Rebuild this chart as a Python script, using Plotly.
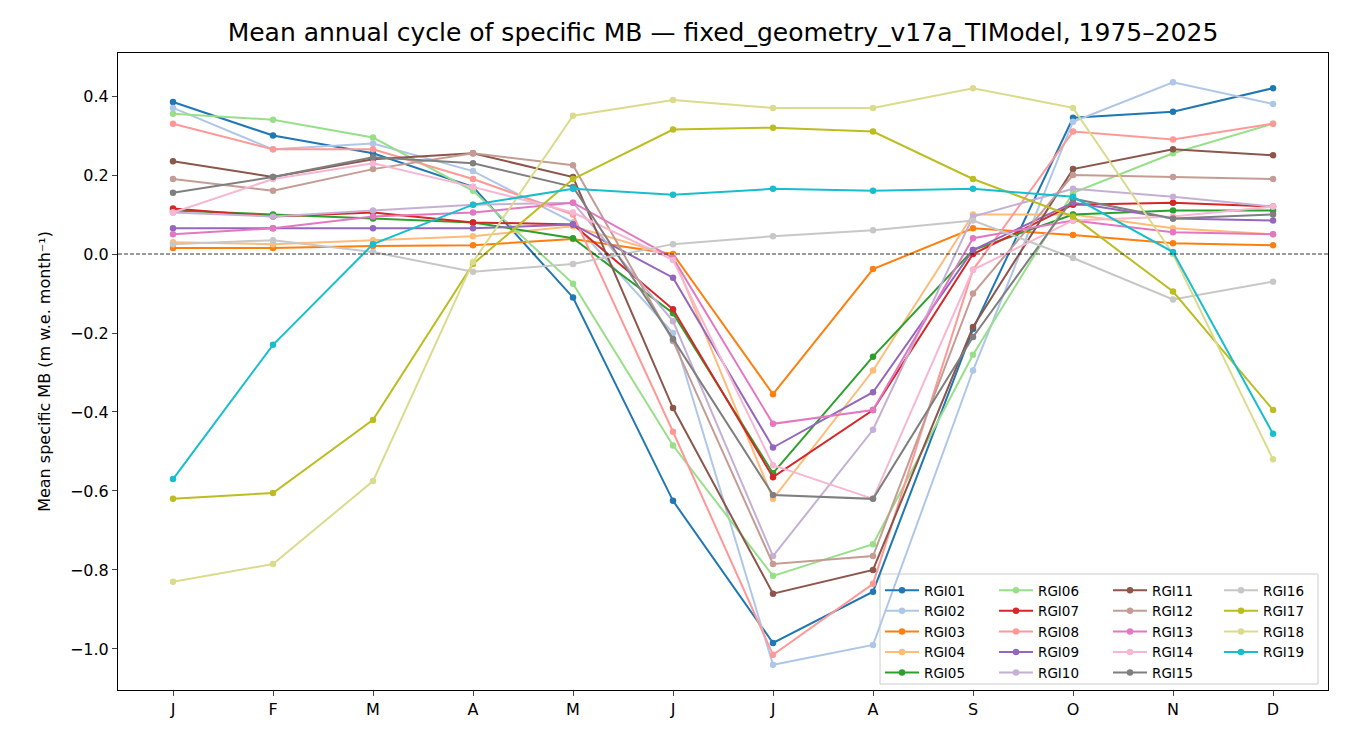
import plotly.graph_objects as go

months = ["J","F","M","A","M","J","J","A","S","O","N","D"]
names = [f"RGI{i:02d}" for i in range(1, 20)]
colors = ["#1f77b4","#aec7e8","#ff7f0e","#ffbb78","#2ca02c","#98df8a","#d62728","#ff9896",
          "#9467bd","#c5b0d5","#8c564b","#c49c94","#e377c2","#f7b6d2","#7f7f7f","#c7c7c7",
          "#bcbd22","#dbdb8d","#17becf"]

rgi01 = [0.385, 0.30, 0.255, 0.17, -0.11, -0.625, -0.985, -0.855, -0.19, 0.345, 0.36, 0.42]
rgi02 = [0.37, 0.265, 0.28, 0.21, 0.08, -0.20, -1.04, -0.99, -0.295, 0.335, 0.435, 0.38]
rgi03 = [0.015, 0.015, 0.02, 0.022, 0.038, 0.0, -0.355, -0.038, 0.065, 0.048, 0.027, 0.022]
rgi04 = [0.03, 0.025, 0.035, 0.045, 0.07, -0.005, -0.62, -0.295, 0.10, 0.10, 0.065, 0.05]
rgi05 = [0.11, 0.10, 0.09, 0.08, 0.04, -0.15, -0.555, -0.26, 0.01, 0.10, 0.11, 0.11]
rgi06 = [0.355, 0.34, 0.295, 0.16, -0.075, -0.485, -0.815, -0.735, -0.255, 0.155, 0.255, 0.33]
rgi07 = [0.115, 0.095, 0.105, 0.08, 0.075, -0.14, -0.565, -0.395, 0.0, 0.125, 0.13, 0.12]
rgi08 = [0.33, 0.265, 0.265, 0.19, 0.10, -0.45, -1.015, -0.835, -0.04, 0.31, 0.29, 0.33]
rgi09 = [0.065, 0.065, 0.065, 0.065, 0.075, -0.06, -0.49, -0.35, 0.01, 0.13, 0.09, 0.085]
rgi10 = [0.105, 0.095, 0.11, 0.125, 0.13, -0.17, -0.765, -0.445, 0.095, 0.165, 0.145, 0.12]
rgi11 = [0.235, 0.195, 0.24, 0.255, 0.195, -0.39, -0.86, -0.80, -0.185, 0.215, 0.265, 0.25]
rgi12 = [0.19, 0.16, 0.215, 0.255, 0.225, -0.22, -0.785, -0.765, -0.10, 0.20, 0.195, 0.19]
rgi13 = [0.05, 0.065, 0.095, 0.105, 0.13, -0.01, -0.43, -0.395, 0.04, 0.085, 0.055, 0.05]
rgi14 = [0.105, 0.19, 0.23, 0.17, 0.105, -0.015, -0.535, -0.62, -0.04, 0.085, 0.095, 0.12]
rgi15 = [0.155, 0.195, 0.245, 0.23, 0.17, -0.215, -0.61, -0.62, -0.21, 0.14, 0.09, 0.10]
rgi16 = [0.025, 0.035, 0.005, -0.045, -0.025, 0.025, 0.045, 0.06, 0.085, -0.01, -0.115, -0.07]
rgi17 = [-0.62, -0.605, -0.42, -0.025, 0.19, 0.315, 0.32, 0.31, 0.19, 0.095, -0.095, -0.395]
rgi18 = [-0.83, -0.785, -0.575, -0.02, 0.35, 0.39, 0.37, 0.37, 0.42, 0.37, 0.0, -0.52]
rgi19 = [-0.57, -0.23, 0.025, 0.125, 0.165, 0.15, 0.165, 0.16, 0.165, 0.145, 0.005, -0.455]

series = [rgi01, rgi02, rgi03, rgi04, rgi05, rgi06, rgi07, rgi08, rgi09, rgi10,
          rgi11, rgi12, rgi13, rgi14, rgi15, rgi16, rgi17, rgi18, rgi19]

x = list(range(12))
fig = go.Figure()
legend_ids = ["legend", "legend2", "legend3", "legend4"]
for i, (nm, ys, c) in enumerate(zip(names, series, colors)):
    fig.add_trace(go.Scatter(
        x=x, y=ys, name=nm, mode="lines+markers",
        line=dict(color=c, width=2), marker=dict(color=c, size=6.5),
        legend=legend_ids[i // 5]))

OFF = 8
W0, W1 = 118 - OFF, 1328 - OFF
H0, H1 = 53 - OFF, 690 - OFF
def px_x(p): return (p - OFF - W0) / (W1 - W0)
def px_y(p): return (H1 - (p - OFF)) / (H1 - H0)

col_px = [880, 994, 1108, 1219]
leg = {}
for lid, cx in zip(legend_ids, col_px):
    leg[lid] = dict(x=px_x(cx), y=px_y(575), xanchor="left", yanchor="top",
                    bgcolor="rgba(0,0,0,0)", borderwidth=0,
                    font=dict(size=13.5, color="black"), itemwidth=34,
                    tracegroupgap=0)

fig.add_shape(type="rect", xref="paper", yref="paper",
              x0=px_x(880), x1=px_x(1318), y0=px_y(684), y1=px_y(574),
              line=dict(color="#cccccc", width=1), fillcolor="rgba(255,255,255,0.8)",
              layer="between")
fig.add_hline(y=0, line=dict(color="black", width=0.8, dash="4px,2px"))

fig.update_layout(
    width=1350, height=750,
    margin=dict(l=W0, r=1350 - W1, t=H0, b=750 - H1),
    paper_bgcolor="white", plot_bgcolor="white",
    font=dict(family="DejaVu Sans", size=16, color="black"),
    title=dict(text="Mean annual cycle of specific MB — fixed_geometry_v17a_TIModel, 1975–2025",
               xref="paper", x=0.5, xanchor="center", y=1 - (32 - OFF) / 750, yanchor="middle",
               font=dict(size=25)),
    xaxis=dict(range=[-0.55, 11.55], tickvals=x, ticktext=months, showgrid=False,
               zeroline=False, showline=True, linecolor="black", mirror=True,
               ticks="outside", ticklen=5, tickfont=dict(size=16)),
    yaxis=dict(range=[-1.104, 0.509], tickvals=[-1.0, -0.8, -0.6, -0.4, -0.2, 0.0, 0.2, 0.4],
               ticktext=["−1.0", "−0.8", "−0.6", "−0.4", "−0.2", "0.0", "0.2", "0.4"],
               showgrid=False, zeroline=False, showline=True, linecolor="black", mirror=True,
               ticks="outside", ticklen=5, tickfont=dict(size=16),
               title=dict(text="Mean specific MB (m w.e. month⁻¹)", font=dict(size=16))),
    **leg,
)
fig.write_html("out.html")
